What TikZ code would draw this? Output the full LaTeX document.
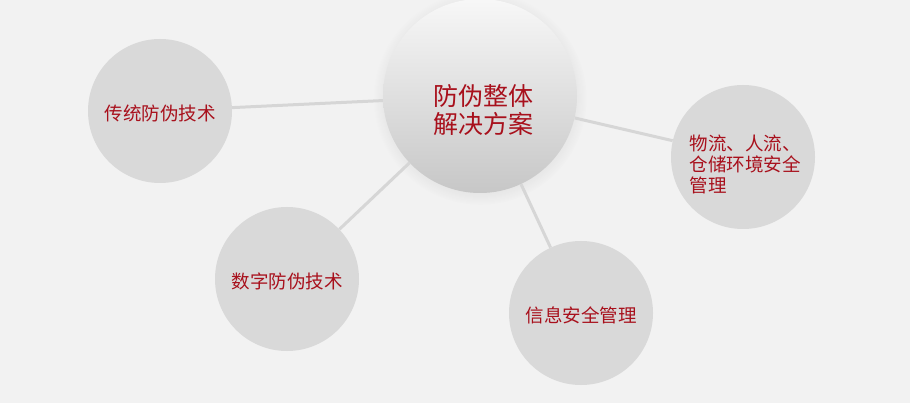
\documentclass[tikz,border=0pt]{standalone}
\usepackage{fontspec}
\newfontfamily\cjk{Noto Sans CJK SC}
\usetikzlibrary{shadows}

\definecolor{bggray}{HTML}{F2F2F2}
\definecolor{satgray}{HTML}{D9D9D9}
\definecolor{linegray}{HTML}{D6D6D6}
\definecolor{txtred}{HTML}{A8101C}

\begin{document}
\begin{tikzpicture}[x=1pt, y=-1pt,
    sat/.style={circle, fill=satgray, minimum size=144pt, inner sep=0pt},
    sattxt/.style={text=txtred, font=\cjk\fontsize{18.5}{21}\selectfont,
      align=left, yshift=-2pt},
    hub/.style={circle, minimum size=194pt, inner sep=0pt,
      top color=white!97!black, bottom color=black!22,
      circular drop shadow={shadow xshift=0pt, shadow yshift=-2pt, opacity=0.12}},
    hubtxt/.style={text=txtred, font=\cjk\fontsize{25}{28}\selectfont,
      align=center, yshift=-14pt, xshift=3pt},
    link/.style={draw=linegray, line width=3pt}]
    \fill[bggray] (0,0) rectangle (910,403);
    \useasboundingbox (0,0) rectangle (910,403);

    \node[hub, label={[hubtxt]center:防伪整体\\解决方案}] (c) at (480,96) {};
    \node[sat, label={[sattxt]center:传统防伪技术}] (l)  at (160,111) {};
    \node[sat, label={[sattxt]center:数字防伪技术}] (bl) at (287,279) {};
    \node[sat, label={[sattxt]center:信息安全管理}] (b)  at (581,313) {};
    \node[sat, label={[sattxt, yshift=-5pt, xshift=2pt]center:物流、人流、\\仓储环境安全\\管理}] (r) at (743,157) {};

    \draw[link] (c) -- (l);
    \draw[link] (c) -- (bl);
    \draw[link] (c) -- (b);
    \draw[link] (c) -- (r);
\end{tikzpicture}
\end{document}
